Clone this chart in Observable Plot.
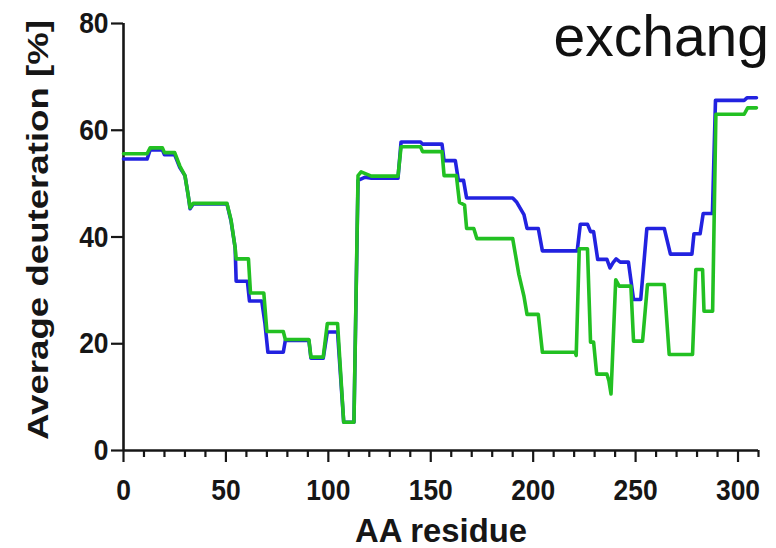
<!DOCTYPE html>
<html><head><meta charset="utf-8">
<script src="https://cdn.jsdelivr.net/npm/d3@7"></script>
<script src="https://cdn.jsdelivr.net/npm/@observablehq/plot@0.6"></script>
<style>html,body{margin:0;padding:0;background:#fff;overflow:hidden;width:776px;height:548px}</style>
</head><body><div id="chart"></div>
<script>
const xMajorTicks = [0, 50, 100, 150, 200, 250, 300];
const xMinorTicks = [10, 20, 30, 40, 60, 70, 80, 90, 110, 120, 130, 140, 160, 170, 180, 190, 210, 220, 230, 240, 260, 270, 280, 290, 310];
const yTicks = [0, 20, 40, 60, 80];

const blueResidue = [0, 11.5, 13, 19, 20, 25, 27.5, 30, 31.5, 32.5, 34, 50.5, 52.5, 54.5, 55, 60.5, 61.5, 67.5, 69, 70.5, 78, 79, 90.5, 91.5, 97.5, 99.5, 104.5, 107.5, 112.5, 114.5, 118, 121, 134, 135.5, 145, 146, 155.5, 156.5, 162, 163.5, 166, 167.5, 190, 192, 195.5, 197, 202.5, 204.5, 221.5, 223, 226.5, 228, 229.5, 231.5, 236, 237.5, 239, 240.5, 242.5, 246.5, 249, 252.5, 255.5, 264, 267, 277.5, 278.5, 281.5, 283, 287.5, 289, 303, 304.5, 309];
const blueDeuteration = [54.6, 54.6, 56.3, 56.3, 55.4, 55.4, 53, 51.5, 48, 45.3, 46.2, 46.2, 43, 38, 31.7, 31.7, 28, 28, 24, 18.4, 18.4, 20.6, 20.6, 17.3, 17.3, 22.2, 22.2, 5.3, 5.3, 50.6, 51.2, 51, 51, 57.8, 57.8, 57.4, 57.4, 54.3, 54.3, 50.6, 50.6, 47.3, 47.3, 46.5, 44.2, 41.6, 41.6, 37.4, 37.4, 42.4, 42.4, 41, 41, 35.8, 35.8, 34.2, 35.2, 35.9, 35.3, 35.3, 28.3, 28.3, 41.6, 41.6, 36.8, 36.8, 40.6, 40.6, 44.4, 44.4, 65.6, 65.6, 66.1, 66.1];

const greenResidue = [0, 11.5, 13, 19, 20, 25, 27.5, 30, 31.5, 32.5, 34, 50.5, 52.5, 54.5, 55, 61, 62, 68.5, 70, 78, 79, 90.5, 91.5, 97.5, 99.5, 104.5, 107.5, 112.5, 114.5, 116, 121, 134, 135.5, 145, 146, 155.5, 156.5, 162.5, 164, 166.5, 167.5, 171, 172.5, 190, 193, 195.5, 197, 202.5, 204.5, 220.5, 221, 222.5, 226.5, 228, 229.5, 231, 236, 237, 238, 240.3, 242, 247.7, 249, 253.4, 255.8, 264, 266.4, 277.8, 279.4, 282.7, 283.4, 287.6, 289.2, 303, 304.7, 309];
const greenDeuteration = [55.6, 55.6, 56.7, 56.7, 55.8, 55.8, 53.3, 51.5, 48, 45.5, 46.3, 46.3, 43.2, 38, 35.9, 35.9, 29.5, 29.5, 22.3, 22.3, 20.8, 20.8, 17.5, 17.5, 23.8, 23.8, 5.3, 5.3, 51.5, 52.2, 51.4, 51.4, 56.9, 56.9, 56, 56, 51.5, 51.5, 46.5, 46, 41.6, 41.6, 39.7, 39.7, 33, 28.9, 25.5, 25.5, 18.4, 18.4, 17.8, 37.8, 37.8, 20.3, 20.3, 14.3, 14.3, 13, 10.6, 32, 30.8, 30.8, 20.5, 20.5, 31.1, 31.1, 18, 18, 33.9, 33.9, 26.1, 26.1, 63, 63, 64.2, 64.2];

const blueRows = blueResidue.map((r, i) => ({residue: r, value: blueDeuteration[i]}));
const greenRows = greenResidue.map((r, i) => ({residue: r, value: greenDeuteration[i]}));

const FONT = "'Liberation Sans', Arial, Helvetica, sans-serif";
const INK = "#161616";

const chart = Plot.plot({
  width: 776,
  height: 548,
  marginLeft: 123,
  marginRight: 18,
  marginTop: 23,
  marginBottom: 98,
  style: {fontFamily: FONT, background: "white", color: INK, overflow: "hidden"},
  x: {domain: [0, 310]},
  y: {domain: [0, 80]},
  marks: [
    Plot.axisX({ticks: xMinorTicks, tickSize: 7, tickFormat: () => "", strokeWidth: 2.2, label: null}),
    Plot.axisX({ticks: xMajorTicks, tickSize: 12, tickPadding: 16, tickFormat: d => String(d), strokeWidth: 2.2, fontSize: 30, fontWeight: "bold", label: null}),
    Plot.axisY({ticks: yTicks, tickSize: 12, tickPadding: 3, tickFormat: d => String(d), strokeWidth: 2.2, fontSize: 30, fontWeight: "bold", label: null}),
    Plot.ruleY([0], {stroke: INK, strokeWidth: 2.6}),
    Plot.ruleX([0], {stroke: INK, strokeWidth: 2.6}),
    Plot.line(blueRows, {x: "residue", y: "value", stroke: "#2222e0", strokeWidth: 3.6, strokeLinejoin: "round"}),
    Plot.line(greenRows, {x: "residue", y: "value", stroke: "#22c022", strokeWidth: 3.6, strokeLinejoin: "round"}),
    Plot.text(["Average deuteration [%]"], {frameAnchor: "left", rotate: -90, dx: -85, dy: -7, fontSize: 29, fontWeight: "bold", textAnchor: "middle", lineAnchor: "middle", fill: INK}),
    Plot.text(["AA residue"], {frameAnchor: "bottom", dy: 81, fontSize: 33, fontWeight: "bold", textAnchor: "middle", lineAnchor: "middle", fill: INK}),
    Plot.text(["exchang"], {frameAnchor: "top-left", dx: 430, dy: 14, fontSize: 57, textAnchor: "start", lineAnchor: "middle", fill: "#111"})
  ]
});
document.getElementById("chart").appendChild(chart);

const svg = d3.select(chart);
svg.selectAll('[aria-label="x-axis tick label"] text, [aria-label="y-axis tick label"] text').each(function() {
  const t = this.getAttribute("transform") || "";
  this.setAttribute("transform", t + " scale(0.88,1)");
});
svg.selectAll("text").each(function() {
  const s = this.textContent;
  if (s === "Average deuteration [%]") {
    this.setAttribute("textLength", 420);
    this.setAttribute("lengthAdjust", "spacingAndGlyphs");
  } else if (s === "AA residue") {
    this.setAttribute("textLength", 172);
    this.setAttribute("lengthAdjust", "spacingAndGlyphs");
  }
});
</script></body></html>
